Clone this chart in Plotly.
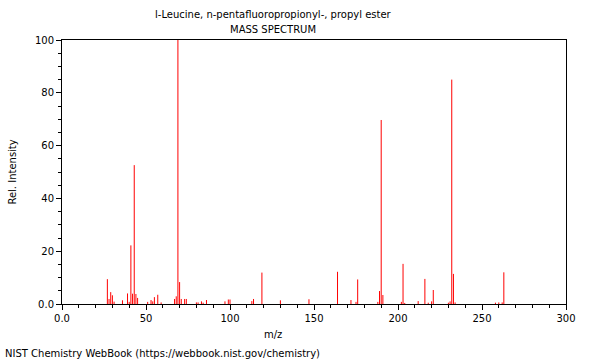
import plotly.graph_objects as go

mz = [27, 28, 29, 30, 31, 36, 39, 40, 41, 42, 43, 44, 45, 51, 53, 54, 55, 57, 59,
      67, 68, 69, 70, 71, 73, 74, 80, 81, 83, 84, 86, 97, 99, 100, 113, 114, 119,
      130, 147, 164, 172, 175, 176, 188, 189, 190, 191, 202, 203, 204, 212, 216,
      218, 220, 221, 230, 231, 232, 233, 234, 258, 260, 262, 263]
intensity = [9.4, 1.9, 4.5, 3.3, 0.9, 1.4, 4.0, 0.8, 22.2, 3.9, 52.6, 3.8, 2.3, 0.8, 1.5, 1.0, 2.6, 3.5, 0.6,
             1.9, 2.9, 100.0, 8.3, 1.9, 1.9, 1.9, 0.6, 0.6, 1.0, 0.5, 1.5, 1.0, 1.7, 1.7, 1.1, 1.9, 11.9,
             1.4, 1.8, 12.2, 1.5, 0.8, 9.3, 0.8, 4.9, 69.7, 3.4, 0.8, 15.2, 0.4, 1.1, 9.5,
             0.5, 1.0, 5.3, 0.5, 1.0, 85.0, 11.4, 0.6, 0.5, 0.6, 0.6, 12.0]

x_ticks = [0, 50, 100, 150, 200, 250, 300]
x_labels = ["0.0", "50", "100", "150", "200", "250", "300"]
y_ticks = [0, 20, 40, 60, 80, 100]
y_labels = ["0.0", "20", "40", "60", "80", "100"]

title1 = "l-Leucine, n-pentafluoropropionyl-, propyl ester"
title2 = "MASS SPECTRUM"
footer = "NIST Chemistry WebBook (https://webbook.nist.gov/chemistry)"

xs, ys = [], []
for m, v in zip(mz, intensity):
    xs += [m, m, None]
    ys += [0, v, None]

fig = go.Figure()
fig.add_trace(go.Scatter(x=xs, y=ys, mode="lines",
                         line=dict(color="#ff0000", width=1),
                         hoverinfo="skip", showlegend=False))

font = dict(family="DejaVu Sans", size=10, color="#000000")
axis_common = dict(showline=True, linecolor="#000000", linewidth=1, mirror=True,
                   ticks="outside", ticklen=5, tickcolor="#000000", tickwidth=1,
                   showgrid=False, zeroline=False, tickfont=font)

fig.update_layout(
    width=600, height=360,
    margin=dict(l=62, r=34, t=40, b=56),
    paper_bgcolor="white", plot_bgcolor="white",
    font=font,
    xaxis=dict(range=[0, 300], tickvals=x_ticks, ticktext=x_labels,
               minor=dict(dtick=10, ticklen=3, ticks="outside", tickcolor="#000000", showgrid=False),
               **axis_common),
    yaxis=dict(range=[0, 100], tickvals=y_ticks, ticktext=y_labels,
               minor=dict(dtick=5, ticklen=3, ticks="outside", tickcolor="#000000", showgrid=False),
               **axis_common),
    annotations=[
        dict(text=title1, x=0.4187, y=1.098, xref="paper", yref="paper",
             showarrow=False, font=font, xanchor="center", yanchor="middle"),
        dict(text=title2, x=0.4187, y=1.038, xref="paper", yref="paper",
             showarrow=False, font=font, xanchor="center", yanchor="middle"),
        dict(text="m/z", x=0.4187, y=-0.114, xref="paper", yref="paper",
             showarrow=False, font=font, xanchor="center", yanchor="middle"),
        dict(text="Rel. Intensity", x=-0.1, y=0.5, xref="paper", yref="paper",
             showarrow=False, font=font, textangle=-90, xanchor="center", yanchor="middle"),
        dict(text=footer, x=-0.117, y=-0.186, xref="paper", yref="paper",
             showarrow=False, font=font, xanchor="left", yanchor="middle"),
    ],
)

fig.write_html("out.html", config={"displayModeBar": False},
               post_script="document.body.style.margin='0';")
